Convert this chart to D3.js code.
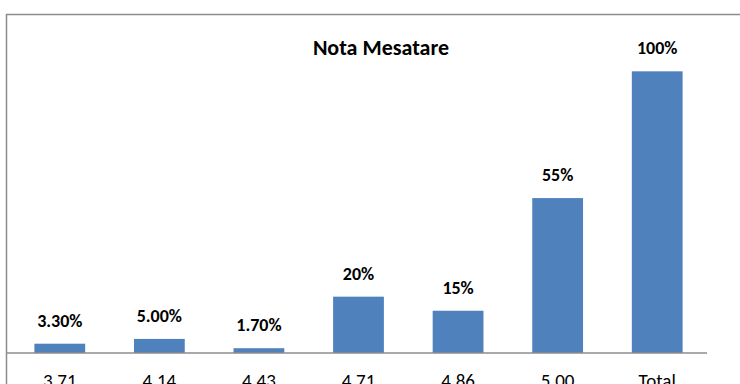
<!DOCTYPE html>
<html>
<head>
<meta charset="utf-8">
<script src="https://cdn.jsdelivr.net/npm/d3@7"></script>
<style>
  body { margin: 0; background: #fff; }
  svg { display: block; font-family: Carlito, Calibri, Lato, sans-serif; }
</style>
</head>
<body>
<div id="chart-area"></div>
<script>
let categories = ["3.71", "4.14", "4.43", "4.71", "4.86", "5.00", "Total"];
let values = [3.3, 5, 1.7, 20, 15, 55, 100];
let valueLabels = ["3.30%", "5.00%", "1.70%", "20%", "15%", "55%", "100%"];

let svg = d3.select("#chart-area")
    .append("svg")
    .attr("width", 740)
    .attr("height", 384);

// Chart border (extends past the window edge)
svg.append("rect")
    .attr("x", 6.5)
    .attr("y", 14.5)
    .attr("width", 800)
    .attr("height", 400)
    .attr("fill", "none")
    .attr("stroke", "#8c8c8c")
    .attr("stroke-width", 1.5);

// X Scale
let x = d3.scaleBand()
    .domain(categories)
    .range([10, 707])
    .paddingInner(0.49)
    .paddingOuter(0.245);

// Y Scale
let y = d3.scaleLinear()
    .domain([0, 120])
    .range([353, 15]);

// Bars
svg.selectAll("rect.bar")
    .data(values)
    .enter()
    .append("rect")
    .attr("class", "bar")
    .attr("x", function (d, i) { return x(categories[i]); })
    .attr("y", function (d) { return y(d); })
    .attr("width", x.bandwidth())
    .attr("height", function (d) { return y(0) - y(d); })
    .attr("fill", "#4f81bd");

// X Axis
let xAxisCall = d3.axisBottom(x).tickSize(0).tickPadding(0);
let xAxis = svg.append("g")
    .attr("transform", "translate(0," + y(0) + ")")
    .call(xAxisCall);
xAxis.select(".domain").remove();
xAxis.append("line")
    .attr("x1", 6)
    .attr("x2", 707)
    .attr("stroke", "#8c8c8c")
    .attr("stroke-width", 1.5);
xAxis.selectAll("text")
    .attr("font-size", "19px")
    .attr("font-family", "Carlito, Calibri, Lato, sans-serif")
    .attr("fill", "#000")
    .attr("y", 34)
    .attr("dy", null);

// Value labels
svg.selectAll("text.val")
    .data(values)
    .enter()
    .append("text")
    .attr("class", "val")
    .attr("x", function (d, i) { return x(categories[i]) + x.bandwidth() / 2; })
    .attr("y", function (d) { return y(d) - 17; })
    .attr("text-anchor", "middle")
    .attr("font-size", "18px")
    .attr("font-weight", "bold")
    .text(function (d, i) { return valueLabels[i]; });

// Title
svg.append("text")
    .attr("x", 381)
    .attr("y", 55)
    .attr("text-anchor", "middle")
    .attr("font-size", "22px")
    .attr("font-weight", "bold")
    .text("Nota Mesatare");
</script>
</body>
</html>
